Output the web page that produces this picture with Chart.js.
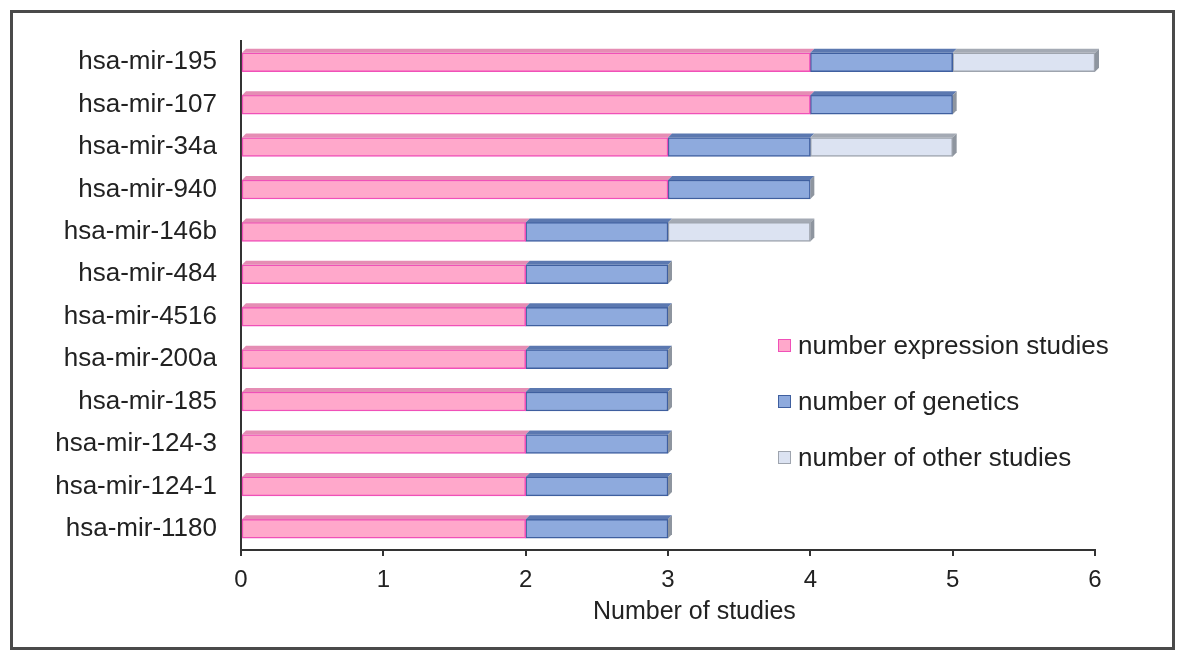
<!DOCTYPE html>
<html>
<head>
<meta charset="utf-8">
<script src="https://cdn.jsdelivr.net/npm/chart.js@4"></script>
<style>
  body { margin: 0; background: #fff; font-family: "Liberation Sans", Arial, sans-serif; }
  #wrap { position: relative; width: 1183px; height: 658px; }
  #frame { position: absolute; left: 10px; top: 10px; width: 1159px; height: 634px; border: 3px solid #4a4a4a; }
  canvas { position: absolute; left: 0; top: 0; }
  #legend { position: absolute; left: 778px; top: 317px; }
  .item { height: 56px; display: flex; align-items: center; font-size: 26px; color: #222; line-height: 30px; }
  .box { width: 13px; height: 13px; margin-right: 7px; border: 1.5px solid; box-sizing: border-box; }
  #xtitle { position: absolute; left: 593px; top: 596px; font-size: 25px; color: #222; white-space: nowrap; }
</style>
</head>
<body>
<div id="wrap">
  <div id="frame"></div>
  <canvas id="chart" width="1183" height="658"></canvas>
  <div id="legend"></div>
  <div id="xtitle">Number of studies</div>
</div>
<script>
// miRNA study counts
const mirnas = ["hsa-mir-195", "hsa-mir-107", "hsa-mir-34a", "hsa-mir-940", "hsa-mir-146b", "hsa-mir-484",
  "hsa-mir-4516", "hsa-mir-200a", "hsa-mir-185", "hsa-mir-124-3", "hsa-mir-124-1", "hsa-mir-1180"];
const expressionStudies = [4, 4, 3, 3, 2, 2, 2, 2, 2, 2, 2, 2];
const geneticStudies = [1, 1, 1, 1, 1, 1, 1, 1, 1, 1, 1, 1];
const otherStudies = [1, 0, 1, 0, 1, 0, 0, 0, 0, 0, 0, 0];
const xTicks = [0, 1, 2, 3, 4, 5, 6];

const seriesNames = ["number expression studies", "number of genetics", "number of other studies"];
const fills = ["#FFA8CB", "#8EAADD", "#DCE3F2"];
const edges = ["#F050B8", "#3F5F9F", "#9EA4AE"];
const tops = ["#E58DB4", "#5B78B0", "#A4AAB4"];

const depth = 4;

// fake 3D top and end faces on top of each bar
const bevel = {
  id: "bevel",
  afterDatasetsDraw(chart) {
    const ctx = chart.ctx;
    const metas = chart.getSortedVisibleDatasetMetas();
    metas.forEach((meta, di) => {
      meta.data.forEach((bar, i) => {
        const v = chart.data.datasets[di].data[i];
        if (!v) return;
        const top = bar.y - bar.height / 2;
        const bottom = bar.y + bar.height / 2;
        ctx.save();
        ctx.fillStyle = tops[di];
        ctx.beginPath();
        ctx.moveTo(bar.base, top);
        ctx.lineTo(bar.x, top);
        ctx.lineTo(bar.x + depth, top - depth);
        ctx.lineTo(bar.base + depth, top - depth);
        ctx.closePath();
        ctx.fill();
        // last visible segment gets a side face
        let last = true;
        for (let k = di + 1; k < metas.length; k++) {
          if (chart.data.datasets[k].data[i]) last = false;
        }
        if (last) {
          ctx.fillStyle = "#8E959F";
          ctx.beginPath();
          ctx.moveTo(bar.x, top);
          ctx.lineTo(bar.x + depth, top - depth);
          ctx.lineTo(bar.x + depth, bottom - depth);
          ctx.lineTo(bar.x, bottom);
          ctx.closePath();
          ctx.fill();
        }
        ctx.restore();
      });
    });
  }
};

const seriesData = [expressionStudies, geneticStudies, otherStudies];

new Chart(document.getElementById("chart"), {
  type: "bar",
  data: {
    labels: mirnas,
    datasets: seriesData.map((d, i) => ({
      label: seriesNames[i],
      data: d,
      backgroundColor: fills[i],
      borderColor: edges[i],
      borderWidth: 1.5,
      borderSkipped: false,
      barThickness: 19
    }))
  },
  options: {
    indexAxis: "y",
    responsive: false,
    animation: false,
    layout: { padding: { left: 0, right: 88, top: 41, bottom: 30 } },
    plugins: { legend: { display: false }, tooltip: { enabled: false } },
    scales: {
      x: {
        stacked: true,
        min: 0,
        max: 6,
        afterBuildTicks: s => { s.ticks = xTicks.map(v => ({ value: v })); },
        afterFit: s => { s.height = 78; },
        grid: { drawOnChartArea: false, drawTicks: true, tickLength: 6, color: "#333", lineWidth: 2 },
        border: { color: "#333", width: 2 },
        ticks: { color: "#222", font: { size: 24, family: "Liberation Sans" }, padding: 10, maxRotation: 0 }
      },
      y: {
        stacked: true,
        afterFit: s => { s.width = 241; },
        grid: { display: false },
        border: { color: "#333", width: 2 },
        ticks: { color: "#222", font: { size: 26, family: "Liberation Sans" }, padding: 16 }
      }
    }
  },
  plugins: [bevel]
});

// legend in the lower right of the plot
const legend = document.getElementById("legend");
seriesNames.forEach((name, i) => {
  const row = document.createElement("div");
  row.className = "item";
  row.innerHTML = `<span class="box" style="background:${fills[i]};border-color:${edges[i]}"></span>${name}`;
  legend.appendChild(row);
});
</script>
</body>
</html>
